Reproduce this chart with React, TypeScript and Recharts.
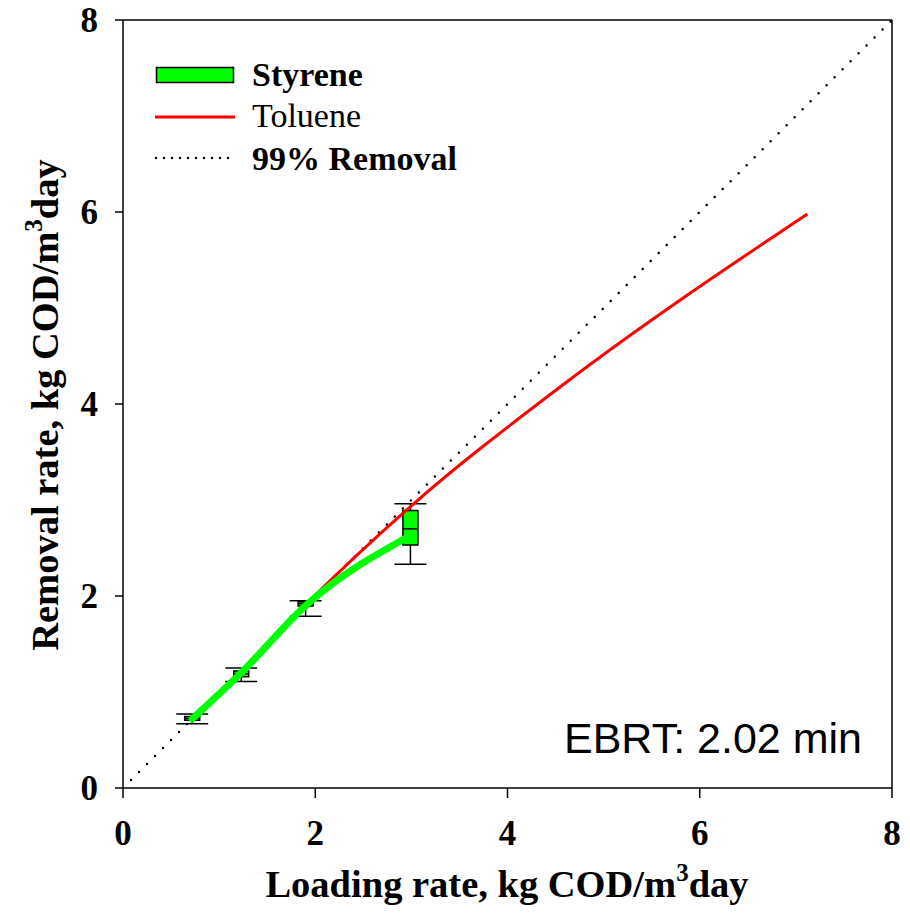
import {
  ComposedChart,
  Line,
  XAxis,
  YAxis,
  ReferenceArea,
  ReferenceLine,
} from 'recharts'

const serif = "'Liberation Serif', 'Times New Roman', serif"
const sans = "'Liberation Sans', Arial, sans-serif"

// axis ticks
const xTicks = [0, 2, 4, 6, 8]
const yTicks = [0, 2, 4, 6, 8]

// toluene removal curve
const tolueneLoad = [0.72, 1.23, 1.9, 3.0, 4.55, 7.12]
const tolueneRemoval = [0.72, 1.22, 1.91, 2.94, 4.18, 5.98]

// styrene mean curve
const styreneLoad = [0.72, 1.23, 1.9, 2.99]
const styreneRemoval = [0.72, 1.2, 1.9, 2.63]

// styrene box plots
const boxLoad = [0.72, 1.23, 1.9, 2.99]
const whiskerLow = [0.67, 1.11, 1.79, 2.33]
const boxLow = [0.705, 1.16, 1.895, 2.53]
const boxMedian = [0.725, 1.19, 1.92, 2.7]
const boxHigh = [0.745, 1.22, 1.94, 2.89]
const whiskerHigh = [0.77, 1.25, 1.95, 2.96]

// 99% removal reference
const refLoad = [0, 8]
const refRemoval = [0, 8]

const BOX_HALF = 0.078
const CAP_HALF = 0.166

const toPoints = (xs: number[], ys: number[]) => xs.map((x, i) => ({ x, y: ys[i] }))

const tickStyle = { fontSize: 35, fontWeight: 'bold', fontFamily: serif, fill: '#000' }

function XTitle() {
  return (
    <text x={507} y={897} textAnchor="middle" fontFamily={serif} fontWeight="bold" fontSize={38.5} fill="#000">
      Loading rate, kg COD/m
      <tspan fontSize={25} dy={-16}>3</tspan>
      <tspan dy={16}>day</tspan>
    </text>
  )
}

function YTitle() {
  return (
    <text
      x={58}
      y={405}
      transform="rotate(-90 58 405)"
      textAnchor="middle"
      fontFamily={serif}
      fontWeight="bold"
      fontSize={38.5}
      fill="#000"
    >
      Removal rate, kg COD/m
      <tspan fontSize={25} dy={-16}>3</tspan>
      <tspan dy={16}>day</tspan>
    </text>
  )
}

export default function App() {
  const toluene = toPoints(tolueneLoad, tolueneRemoval)
  const styrene = toPoints(styreneLoad, styreneRemoval)
  const ref = toPoints(refLoad, refRemoval)

  return (
    <div style={{ position: 'absolute', left: 0, top: 0, width: 910, height: 918, background: '#fff' }}>
      <ComposedChart width={910} height={918} margin={{ top: 20, right: 18, left: 0, bottom: 0 }}>
        <XAxis
          type="number"
          dataKey="x"
          domain={[0, 8]}
          ticks={xTicks}
          allowDataOverflow
          height={130}
          tickSize={10}
          tickMargin={22}
          tick={tickStyle}
          axisLine={{ stroke: '#000', strokeWidth: 1.5 }}
          tickLine={{ stroke: '#000', strokeWidth: 1.5 }}
          label={<XTitle />}
        />
        <YAxis
          type="number"
          dataKey="y"
          domain={[0, 8]}
          ticks={yTicks}
          allowDataOverflow
          width={123}
          tickSize={8}
          tickMargin={17}
          tick={tickStyle}
          axisLine={{ stroke: '#000', strokeWidth: 1.5 }}
          tickLine={{ stroke: '#000', strokeWidth: 1.5 }}
          label={<YTitle />}
        />
        <ReferenceLine y={8} stroke="#000" strokeWidth={1.5} />
        <ReferenceLine x={8} stroke="#000" strokeWidth={1.5} />

        {boxLoad.map((x, i) => (
          <ReferenceLine
            key={`wl${i}`}
            segment={[{ x, y: whiskerLow[i] }, { x, y: boxLow[i] }]}
            stroke="#000"
            strokeWidth={1.5}
          />
        ))}
        {boxLoad.map((x, i) => (
          <ReferenceLine
            key={`wh${i}`}
            segment={[{ x, y: boxHigh[i] }, { x, y: whiskerHigh[i] }]}
            stroke="#000"
            strokeWidth={1.5}
          />
        ))}
        {boxLoad.map((x, i) => (
          <ReferenceLine
            key={`cl${i}`}
            segment={[{ x: x - CAP_HALF, y: whiskerLow[i] }, { x: x + CAP_HALF, y: whiskerLow[i] }]}
            stroke="#000"
            strokeWidth={1.5}
          />
        ))}
        {boxLoad.map((x, i) => (
          <ReferenceLine
            key={`ch${i}`}
            segment={[{ x: x - CAP_HALF, y: whiskerHigh[i] }, { x: x + CAP_HALF, y: whiskerHigh[i] }]}
            stroke="#000"
            strokeWidth={1.5}
          />
        ))}
        {boxLoad.map((x, i) => (
          <ReferenceArea
            key={`b${i}`}
            x1={x - BOX_HALF}
            x2={x + BOX_HALF}
            y1={boxLow[i]}
            y2={boxHigh[i]}
            fill="#00ff00"
            fillOpacity={1}
            stroke="#000"
            strokeWidth={1.5}
          />
        ))}
        {boxLoad.map((x, i) => (
          <ReferenceLine
            key={`m${i}`}
            segment={[{ x: x - BOX_HALF, y: boxMedian[i] }, { x: x + BOX_HALF, y: boxMedian[i] }]}
            stroke="#000"
            strokeWidth={1.5}
          />
        ))}

        <Line
          data={ref}
          dataKey="y"
          type="linear"
          stroke="#000"
          strokeWidth={2.5}
          strokeDasharray="0 11.3"
          strokeLinecap="round"
          dot={false}
          activeDot={false}
          isAnimationActive={false}
        />
        <Line
          data={toluene}
          dataKey="y"
          type="monotone"
          stroke="#ff0000"
          strokeWidth={3}
          dot={false}
          activeDot={false}
          isAnimationActive={false}
        />
        <Line
          data={styrene}
          dataKey="y"
          type="monotone"
          stroke="#00ff00"
          strokeWidth={7}
          strokeLinecap="round"
          dot={false}
          activeDot={false}
          isAnimationActive={false}
        />
      </ComposedChart>

      <svg width={910} height={918} style={{ position: 'absolute', left: 0, top: 0, pointerEvents: 'none' }}>
        <rect x={156.5} y={67.5} width={77} height={15} fill="#00ff00" stroke="#000" strokeWidth={1.5} />
        <text x={252} y={86} fontFamily={serif} fontWeight="bold" fontSize={34} fill="#000">Styrene</text>
        <line x1={155} x2={235} y1={117} y2={117} stroke="#ff0000" strokeWidth={3} />
        <text x={252} y={127} fontFamily={serif} fontSize={34} fill="#000">Toluene</text>
        <line x1={156} x2={230} y1={158} y2={158} stroke="#000" strokeWidth={2.5} strokeDasharray="0 8" strokeLinecap="round" />
        <text x={252} y={170} fontFamily={serif} fontWeight="bold" fontSize={34} fill="#000">99% Removal</text>
        <text x={564} y={753} fontFamily={sans} fontSize={43} fill="#000">EBRT: 2.02 min</text>
      </svg>
    </div>
  )
}
